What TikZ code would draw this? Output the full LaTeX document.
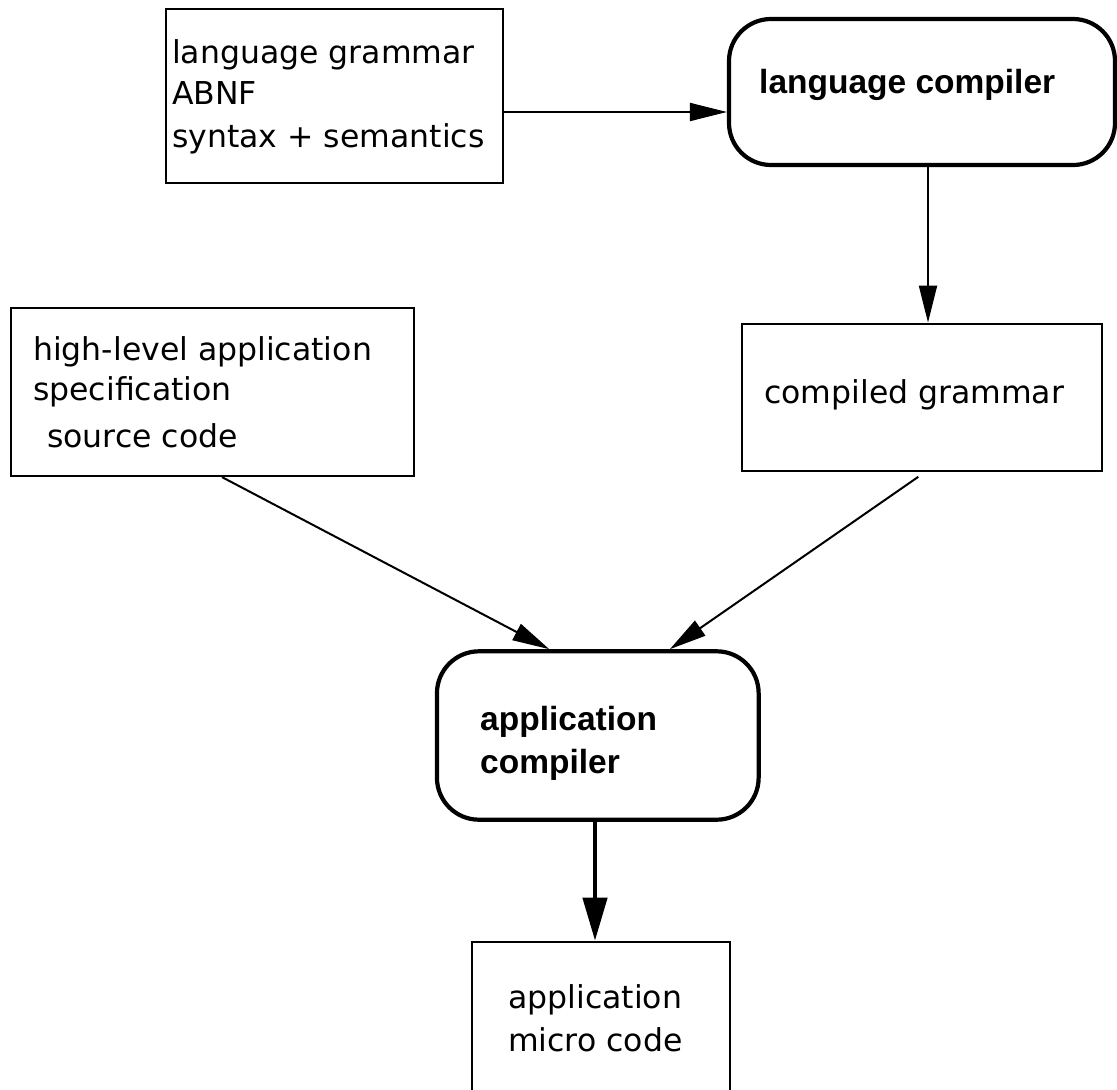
\documentclass[tikz,border=0pt]{standalone}
\usepackage{fontspec}
\setmainfont{DejaVu Sans}
\newfontfamily\boldlab{Liberation Sans}
\usetikzlibrary{arrows.meta}
\begin{document}
\begin{tikzpicture}[x=1pt,y=-1pt,
  plainbox/.style={draw, line width=2.2pt, inner sep=0pt},
  roundbox/.style={draw, line width=4.2pt, rounded corners=42pt, inner sep=0pt},
  txt/.style={inner sep=0pt, anchor=base west, font=\fontsize{31.5}{38}\selectfont},
  btxt/.style={inner sep=0pt, anchor=base west, font=\boldlab\bfseries\fontsize{33.5}{40}\selectfont},
  arr/.style={line width=2pt, -{Triangle[length=37pt,width=18pt]}},
  thickarr/.style={line width=4.5pt, -{Triangle[length=43pt,width=24pt]}}]
\useasboundingbox (0,0) rectangle (1117,1090);
\clip (0,0) rectangle (1117,1090);
\fill[white] (0,0) rectangle (1117,1090);

% boxes
\node[plainbox, minimum width=337pt, minimum height=174pt] (grammar) at (334.3,96) {};
\node[roundbox, minimum width=386pt, minimum height=146pt] (langc) at (922,92) {};
\node[plainbox, minimum width=403pt, minimum height=168pt] (spec) at (212.5,392) {};
\node[plainbox, minimum width=360.6pt, minimum height=147pt] (cgram) at (922,397.2) {};
\node[roundbox, minimum width=321.7pt, minimum height=168.4pt] (appc) at (597.8,735.5) {};
\node[plainbox, minimum width=257.7pt, minimum height=170pt] (micro) at (600.8,1026.8) {};

% texts
\node[txt] (g1) at (172,63.3) {language grammar};
\node[txt] (g2) at (172,104.5) {ABNF};
\node[txt] (g3) at (172,147.7) {syntax + semantics};
\node[btxt] (lc) at (759,93) {language compiler};
\node[txt] (s1) at (33,360) {high-level application};
\node[txt] (s2) at (33,400.7) {specification};
\node[txt] (s3) at (47,447) {source code};
\node[txt] (cg) at (764,403) {compiled grammar};
\node[btxt] (ac1) at (480,730) {application};
\node[btxt] (ac2) at (480,773) {compiler};
\node[txt] (m1) at (508,1008.3) {application};
\node[txt] (m2) at (508,1051.7) {micro code};

% connectors
\coordinate (p1) at ([yshift=-16pt]grammar.east);
\draw[arr] (p1) -- (p1 -| langc.west);
\coordinate (p2) at ([xshift=6pt]langc.south);
\draw[arr] (p2) -- (p2 |- cgram.north);
\coordinate (p3) at ([xshift=9.5pt]spec.south);
\coordinate (q3) at ([xshift=-48.5pt]appc.north);
\draw[arr] (p3) -- (q3);
\coordinate (p4) at ([xshift=-3.7pt,yshift=-5pt]cgram.south);
\coordinate (q4) at ([xshift=72pt]appc.north);
\draw[arr] (p4) -- (q4);
\coordinate (p5) at ([xshift=-2.8pt]appc.south);
\draw[thickarr] (p5) -- (p5 |- micro.north);
\end{tikzpicture}
\end{document}
